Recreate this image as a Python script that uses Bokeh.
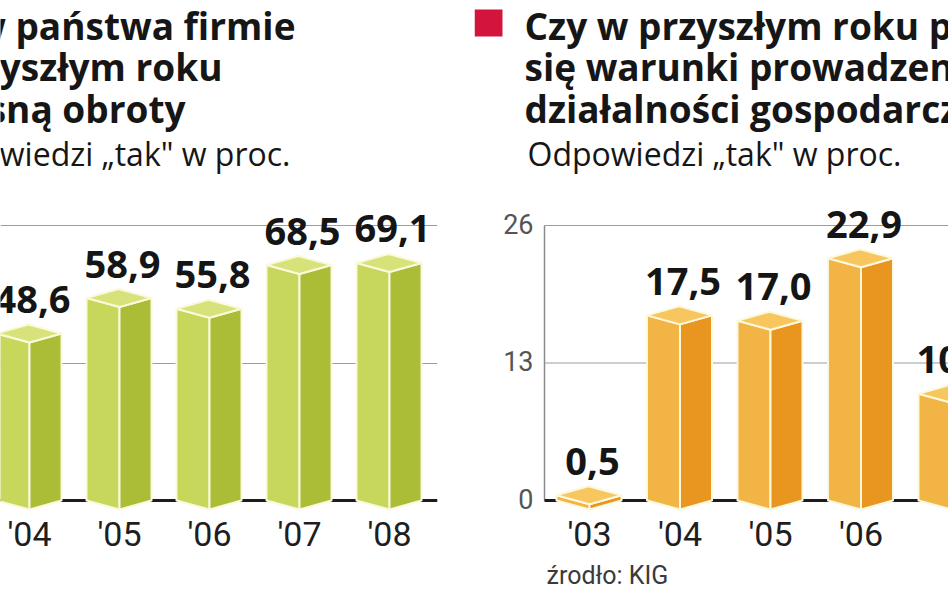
from bokeh.plotting import figure
from bokeh.layouts import row
from bokeh.models import FixedTicker, Span, Label, Range1d, BoxAnnotation, Title
from bokeh.core.properties import value
from bokeh.embed import file_html
from bokeh.resources import INLINE

# ---------------- data ----------------
left_years = ["'04", "'05", "'06", "'07", "'08"]
left_values = [48.6, 58.9, 55.8, 68.5, 69.1]
left_ticks = [0, 40, 80]
left_first_index = 1          # '03 lies outside the visible crop

right_years = ["'03", "'04", "'05", "'06", "'07"]
right_values = [0.5, 17.5, 17.0, 22.9, 10.1]
right_ticks = [0, 13, 26]
right_first_index = 0

left_title = ["Czy w państwa firmie", "w przyszłym roku", "wzrosną obroty"]
right_title = ["Czy w przyszłym roku poprawią", "się warunki prowadzenia",
               "działalności gospodarczej?"]
subtitle = "Odpowiedzi \u201etak\" w proc."
source_text = "źrodło: KIG"

# ---------------- layout / style ----------------
W_HALF = 474
FIG_H = 593
BASE_Y = 500           # window y of the zero line
TOP_Y = 225            # window y of the top tick
FRAME_BOTTOM = 515     # window y of frame bottom (x axis below)
FRONT_PX, SIDE_PX, DEPTH_PX = 33, 32, 9
FONT = "Open Sans"
TICK_FONT = "Roboto"
TXT_SHIFT = 12         # baseline correction for text rendering

GREEN = dict(front="#c6d75c", side="#abbc37", top="#d7e37a")
ORANGE = dict(front="#f3b446", side="#e8961f", top="#f7c65e")
EDGE = "#fbf8dc"
GRID = "#9c9c9c"
BASE = "#1c1c1c"


def fmt(v):
    return f"{v:.1f}".replace(".", ",")


def draw_bars(p, cx, values, step_px, u, colors):
    fw = FRONT_PX / step_px
    sw = SIDE_PX / step_px
    d = DEPTH_PX * u
    front_xs = [[c - fw, c, c, c - fw] for c in cx]
    front_ys = [[v, v - d, -d, 0] for v in values]
    side_xs = [[c, c + sw, c + sw, c] for c in cx]
    side_ys = [[v - d, v, 0, -d] for v in values]
    top_xs = [[c - fw, c, c + sw, c - fw + sw] for c in cx]
    top_ys = [[v, v - d, v, v + d] for v in values]
    for xs, ys, col in ((front_xs, front_ys, colors["front"]),
                        (side_xs, side_ys, colors["side"]),
                        (top_xs, top_ys, colors["top"])):
        p.patches(xs, ys, fill_color=col, line_color=EDGE, line_width=2, line_join="round")
    p.text(x=cx, y=values, text=[fmt(v) for v in values], x_offset=3,
           y_offset=-22 - TXT_SHIFT,
           text_align="center", text_baseline="alphabetic", text_font=value(FONT),
           text_font_style="bold", text_font_size="38px", text_color="#151515")


def style_xaxis(p, cx, years):
    ax = p.xaxis[0]
    ax.ticker = FixedTicker(ticks=cx)
    ax.major_label_overrides = {c: y for c, y in zip(cx, years)}
    ax.axis_line_color = None
    ax.major_tick_line_color = None
    ax.minor_tick_line_color = None
    ax.major_tick_out = 0
    ax.minor_tick_out = 0
    ax.major_label_standoff = -2
    ax.major_label_text_font = TICK_FONT
    ax.major_label_text_font_size = "34px"
    ax.major_label_text_color = "#1e1e1e"


def add_text(p, x, y_win, txt, size, bold=False, align="left", color="#161616"):
    p.add_layout(Label(x=x, y=FRAME_BOTTOM - y_win + TXT_SHIFT, x_units="screen",
                       y_units="screen", text=txt, text_align=align,
                       text_baseline="alphabetic", text_font=FONT,
                       text_font_style="bold" if bold else "normal",
                       text_font_size=size, text_color=color))


def base_figure(x0, x1, y0, y1, right_border):
    p = figure(width=W_HALF, height=FIG_H, x_range=Range1d(x0, x1), y_range=Range1d(y0, y1),
               output_backend="svg", toolbar_location=None,
               min_border_left=0, min_border_right=right_border,
               min_border_top=0, min_border_bottom=FIG_H - FRAME_BOTTOM,
               y_axis_location=None)
    p.outline_line_color = None
    p.xgrid.visible = False
    return p


# =============== left panel: frame from window x 0 to 437 ===============
L_STEP = 90.0
L_FRAME_W = 437
L_FIRST_PX = 29        # frame x of the first visible bar centre
uL = left_ticks[-1] / (BASE_Y - TOP_Y)
ly0 = -(FRAME_BOTTOM - BASE_Y) * uL
lx0 = left_first_index - L_FIRST_PX / L_STEP
left = base_figure(lx0, lx0 + L_FRAME_W / L_STEP, ly0, ly0 + FRAME_BOTTOM * uL,
                   W_HALF - L_FRAME_W)
left.ygrid.ticker = FixedTicker(ticks=left_ticks)
left.ygrid.grid_line_color = GRID
left.ygrid.grid_line_width = 1
left.add_layout(Span(location=0, dimension="width", line_color=BASE, line_width=3,
                     level="underlay"))
lcx = [left_first_index + k for k in range(len(left_values))]
draw_bars(left, lcx, left_values, L_STEP, uL, GREEN)
style_xaxis(left, lcx, left_years)

for txt, xr, yb in zip(left_title, [295, 222, 185], [37, 78, 120]):
    add_text(left, xr, yb, txt, "37px", bold=True, align="right")
add_text(left, 290, 165, subtitle, "32px", align="right")

# =============== right panel: frame from window x 474 to 948 ===============
R_STEP = 90.5
R_FIRST_PX = 115       # frame x of the first bar centre ('03)
R_AXIS_PX = 70         # frame x of the vertical axis line
uR = right_ticks[-1] / (BASE_Y - TOP_Y)
ry0 = -(FRAME_BOTTOM - BASE_Y) * uR
rx0 = right_first_index - R_FIRST_PX / R_STEP
rx1 = rx0 + W_HALF / R_STEP
right = base_figure(rx0, rx1, ry0, ry0 + FRAME_BOTTOM * uR, 0)
right.ygrid.visible = False
x_axis_line = rx0 + R_AXIS_PX / R_STEP
grid_vals = right_ticks[1:]
right.segment(x0=[x_axis_line] * len(grid_vals), y0=grid_vals,
              x1=[rx1] * len(grid_vals), y1=grid_vals, line_color=GRID, line_width=1)
right.segment(x0=[x_axis_line], y0=[right_ticks[0]], x1=[x_axis_line], y1=[right_ticks[-1]],
              line_color="#8a8a8a", line_width=1.5)
right.segment(x0=[x_axis_line], y0=[0], x1=[rx1], y1=[0], line_color=BASE, line_width=3)
rcx = [right_first_index + k for k in range(len(right_values))]
draw_bars(right, rcx, right_values, R_STEP, uR, ORANGE)
style_xaxis(right, rcx, right_years)
# y tick labels
right.text(x=[x_axis_line] * len(right_ticks), y=right_ticks, text=[str(t) for t in right_ticks],
           x_offset=-11, y_offset=10 - TXT_SHIFT, text_align="right",
           text_baseline="alphabetic", text_font=value(TICK_FONT), text_font_size="27px",
           text_color="#555555")

right.add_layout(BoxAnnotation(left=0, right=28, bottom=FRAME_BOTTOM - 36,
                               top=FRAME_BOTTOM - 9,
                               left_units="screen", right_units="screen",
                               bottom_units="screen", top_units="screen",
                               fill_color="#d3143c", fill_alpha=1, line_color=None))
for txt, yb in zip(right_title, [37, 78, 120]):
    add_text(right, 50, yb, txt, "37px", bold=True)
add_text(right, 53, 165, subtitle, "32px")
right.add_layout(Title(text=source_text, align="left", offset=72, standoff=4,
                       text_font=TICK_FONT, text_font_style="normal", text_font_size="25px",
                       text_color="#3a3a3a"), "below")

layout = row(left, right, spacing=0)
open("out.html", "w").write(file_html(layout, INLINE))
